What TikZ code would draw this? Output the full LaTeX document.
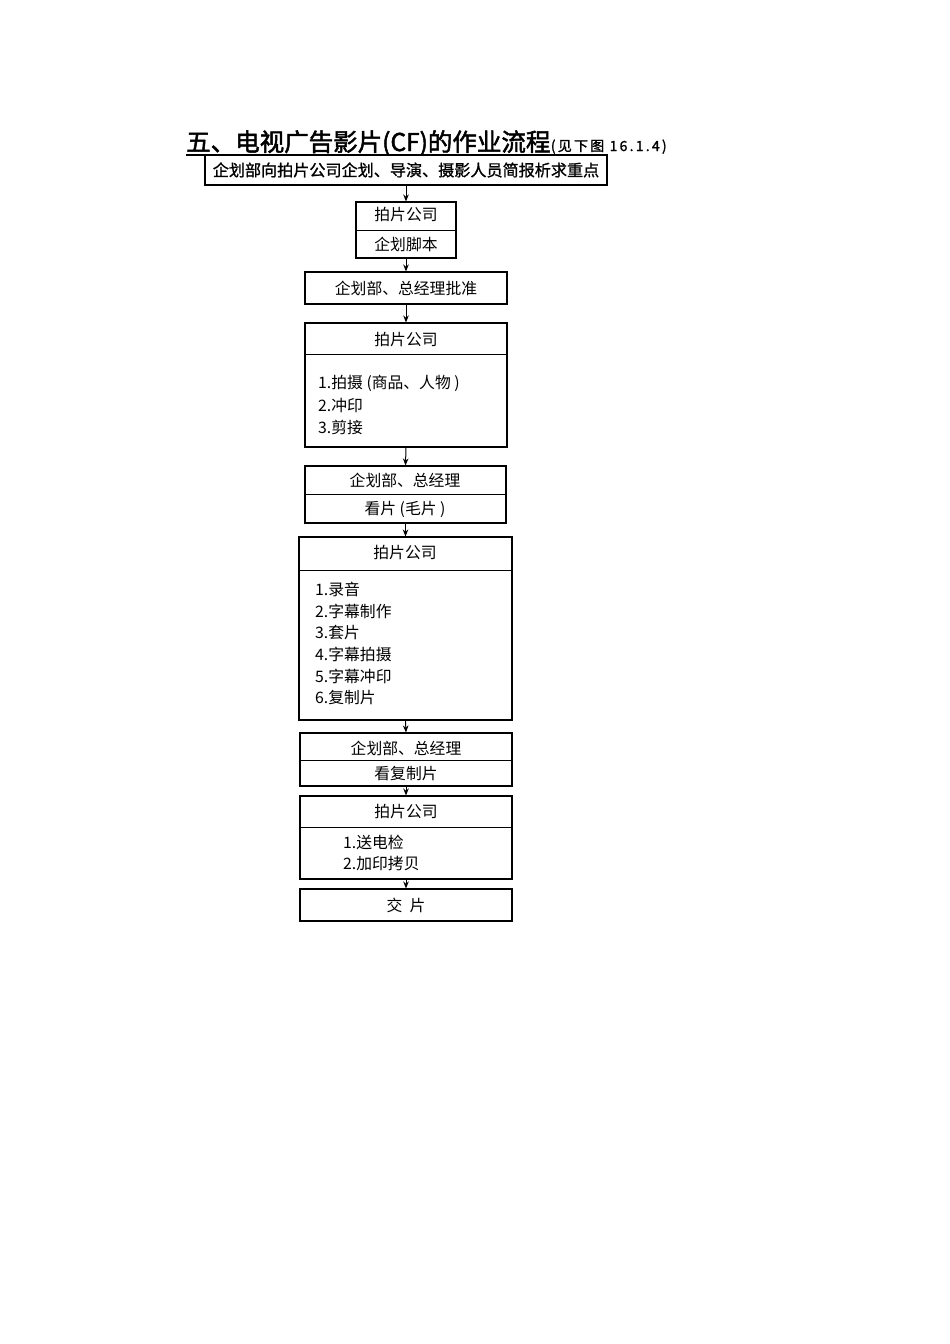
\documentclass[tikz,border=0pt]{standalone}
\usepackage{fontspec}
\newfontfamily\cjk{Noto Sans CJK SC}
\newfontfamily\cjkb{Noto Sans CJK SC}[FakeBold=2]
\newfontfamily\cjkm{Noto Sans CJK SC}[FakeBold=1]
\newfontfamily\cjksp{Noto Sans CJK SC}[FakeBold=1.5,LetterSpace=16]
\usetikzlibrary{arrows.meta}
\begin{document}
\begin{tikzpicture}[x=1pt,y=-1pt,
  boxx/.style={draw,line width=1.1pt,rectangle,inner sep=0pt},
  lbl/.style={font=\cjk\fontsize{15.8}{18}\selectfont,inner sep=0pt},
  item/.style={lbl,anchor=west},
  divl/.style={line width=0.9pt},
  flow/.style={line width=1pt,-{Stealth[length=7pt,width=5.5pt]}}]
\useasboundingbox[fill=white] (0,0) rectangle (950,1344);
% title
\node[anchor=base west,inner sep=0pt,font=\cjkb\fontsize{24.5}{26}\selectfont] (title) at (186,151) {五、电视广告影片(CF)的作业流程};
\node[anchor=base west,inner sep=0pt,font=\cjksp\fontsize{14}{16}\selectfont] (titleref) at (title.base east) {(见下图 16.1.4)};
\coordinate (ulA) at (186,155);
\coordinate (ulB) at (205,155);
\draw[line width=1.1pt] (ulA) -- (ulB);
% boxes
\node[boxx,minimum width=402pt,minimum height=30pt] (b1) at (406,170) {};
\node[lbl,font=\cjkm\fontsize{16.1}{18}\selectfont] (t1) at (b1.center) {企划部向拍片公司企划、导演、摄影人员简报析求重点};
\node[boxx,minimum width=100pt,minimum height=56pt] (b2) at (406,230) {};
\draw[divl] (b2.west) -- (b2.east);
\node[lbl] (t2a) at (406,215) {拍片公司};
\node[lbl] (t2b) at (406,244) {企划脚本};
\node[boxx,minimum width=202pt,minimum height=32pt] (b3) at (406,288) {};
\node[lbl] (t3) at (b3.center) {企划部、总经理批准};
\node[boxx,minimum width=202pt,minimum height=124pt] (b4) at (406,385) {};
\coordinate (d4l) at (305,354); \coordinate (d4r) at (507,354);
\draw[divl] (d4l) -- (d4r);
\node[lbl] (t4h) at (406,340) {拍片公司};
\node[item] (t4a) at (318,383) {1.拍摄 (商品、人物 )};
\node[item] (t4b) at (318,405) {2.冲印};
\node[item] (t4c) at (318,427) {3.剪接};
\node[boxx,minimum width=201pt,minimum height=57pt] (b5) at (405.5,494.5) {};
\draw[divl] (b5.west) -- (b5.east);
\node[lbl] (t5a) at (405,480) {企划部、总经理};
\node[lbl] (t5b) at (405,509) {看片 (毛片 )};
\node[boxx,minimum width=213pt,minimum height=183pt] (b6) at (405.5,628.5) {};
\coordinate (d6l) at (299,570); \coordinate (d6r) at (512,570);
\draw[divl] (d6l) -- (d6r);
\node[lbl] (t6h) at (405,553) {拍片公司};
\node[item] (t6a) at (315,589) {1.录音};
\node[item] (t6b) at (315,611) {2.字幕制作};
\node[item] (t6c) at (315,633) {3.套片};
\node[item] (t6d) at (315,654) {4.字幕拍摄};
\node[item] (t6e) at (315,676) {5.字幕冲印};
\node[item] (t6f) at (315,698) {6.复制片};
\node[boxx,minimum width=212pt,minimum height=53pt] (b7) at (406,759.5) {};
\coordinate (d7l) at (300,760); \coordinate (d7r) at (512,760);
\draw[divl] (d7l) -- (d7r);
\node[lbl] (t7a) at (406,748) {企划部、总经理};
\node[lbl] (t7b) at (406,774) {看复制片};
\node[boxx,minimum width=212pt,minimum height=83pt] (b8) at (406,837.5) {};
\coordinate (d8l) at (300,827); \coordinate (d8r) at (512,827);
\draw[divl] (d8l) -- (d8r);
\node[lbl] (t8h) at (406,812) {拍片公司};
\node[item] (t8a) at (343,842) {1.送电检};
\node[item] (t8b) at (343,863) {2.加印拷贝};
\node[boxx,minimum width=212pt,minimum height=32pt] (b9) at (406,905) {};
\node[lbl] (t9) at (b9.center) {交\ \ 片};
% connectors
\draw[flow] (b1.south) -- (b2.north);
\draw[flow] (b2.south) -- (b3.north);
\draw[flow] (b3.south) -- (b4.north);
\draw[flow] (b4.south) -- (b5.north);
\draw[flow] (b5.south) -- (b6.north);
\draw[flow] (b6.south) -- (b7.north);
\draw[flow] (b7.south) -- (b8.north);
\draw[flow] (b8.south) -- (b9.north);
\end{tikzpicture}
\end{document}
